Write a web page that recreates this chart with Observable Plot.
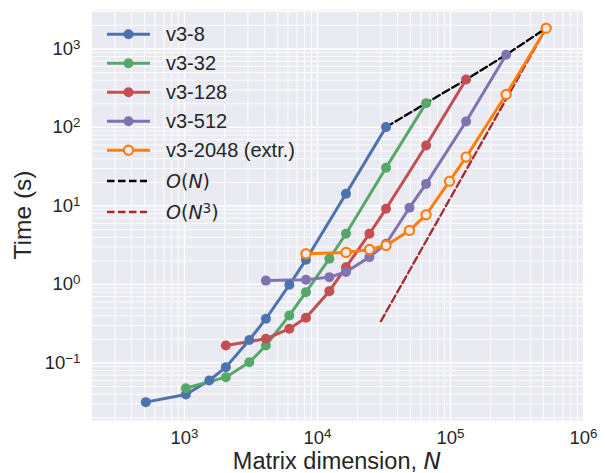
<!DOCTYPE html>
<html><head><meta charset="utf-8">
<script src="https://cdn.jsdelivr.net/npm/d3@7"></script>
<script src="https://cdn.jsdelivr.net/npm/@observablehq/plot@0.6"></script>
<style>
body{margin:0;background:#fff;}
#wrap{position:relative;width:605px;height:473px;}
</style></head><body><div id="wrap"></div>
<script>
// ---- data ----
const seriesNames = ["v3-8","v3-32","v3-128","v3-512","v3-2048 (extr.)"];
const seriesColors = ["#4C72B0","#55A868","#C44E52","#8172B2","#FF7F0E"];

const N_v3_8   = [512,1024,1536,2048,3072,4096,6144,8192,16384,32768];
const T_v3_8   = [0.0317,0.0397,0.0598,0.0885,0.196,0.366,0.99,2.06,14.3,101];
const N_v3_32  = [1024,2048,3072,4096,6144,8192,12288,16384,32768,65536];
const T_v3_32  = [0.0477,0.0659,0.102,0.167,0.403,0.798,2.13,4.43,30.7,204];
const N_v3_128 = [2048,4096,6144,8192,12288,16384,24576,32768,65536,131072];
const T_v3_128 = [0.167,0.203,0.273,0.376,0.822,1.66,4.43,9.2,59,408];
const N_v3_512 = [4096,8192,12288,16384,24576,32768,49152,65536,131072,262144];
const T_v3_512 = [1.12,1.15,1.24,1.44,2.23,3.3,9.5,19.1,119,844];
const N_v3_2048 = [8192,16384,24576,32768,49152,65536,98304,131072,262144,524288];
const T_v3_2048 = [2.46,2.56,2.79,3.14,4.88,7.72,20.7,41.9,263,1841];

const N_ON  = [32768,65536,131072,262144,524288];
const T_ON  = [101,204,408,844,1841];
const N_ON3 = [30000,524288];
const T_ON3 = [0.341,1841];

const xTicks = [1e3,1e4,1e5,1e6];
const yTicks = [1e-1,1e0,1e1,1e2,1e3];
const xLabel = "Matrix dimension, ";
const yLabel = "Time (s)";

// ---- build tables ----
const allN = [N_v3_8,N_v3_32,N_v3_128,N_v3_512,N_v3_2048];
const allT = [T_v3_8,T_v3_32,T_v3_128,T_v3_512,T_v3_2048];
const rows = [];
seriesNames.forEach((s,i)=>allN[i].forEach((n,j)=>rows.push({series:s,N:n,T:allT[i][j]})));
const solidRows = rows.filter(d=>d.series!==seriesNames[4]);
const extrRows = rows.filter(d=>d.series===seriesNames[4]);
const onRows = N_ON.map((n,i)=>({N:n,T:T_ON[i]}));
const on3Rows = N_ON3.map((n,i)=>({N:n,T:T_ON3[i]}));

const minorTicks = (lo,hi)=>{const out=[];for(let e=lo;e<=hi;e++)for(let m=1;m<=9;m++)out.push(m*10**e);return out;};
const xDomain=[200,1e6], yDomain=[10**-1.733,10**3.49];
const xMinor = minorTicks(2,5).filter(v=>v>=xDomain[0]&&v<=xDomain[1]);
const yMinor = minorTicks(-2,3).filter(v=>v>=yDomain[0]&&v<=yDomain[1]);
const expFmt = d=>"10^"+String(Math.round(Math.log10(d))).replace("-","\u2212");

const BG="#EAEAF2", TXT="#262626";
const plot = Plot.plot({
  width:605, height:473, marginLeft:91, marginRight:22, marginTop:10, marginBottom:53,
  style:{fontFamily:"'Liberation Sans', Arial, sans-serif", background:"transparent", color:TXT, overflow:"visible"},
  x:{type:"log", domain:xDomain},
  y:{type:"log", domain:yDomain},
  color:{domain:seriesNames, range:seriesColors},
  marks:[
    Plot.frame({fill:BG, stroke:null}),
    Plot.gridX(xMinor,{stroke:"#fff",strokeOpacity:1,strokeWidth:0.9}),
    Plot.gridY(yMinor,{stroke:"#fff",strokeOpacity:1,strokeWidth:0.9}),
    Plot.gridX(xTicks,{stroke:"#fff",strokeOpacity:1,strokeWidth:1.3}),
    Plot.gridY(yTicks,{stroke:"#fff",strokeOpacity:1,strokeWidth:1.3}),
    Plot.axisX(xTicks,{tickSize:0,tickPadding:10,tickFormat:expFmt,label:null,fontSize:18.5}),
    Plot.axisY(yTicks,{tickSize:0,tickPadding:11,tickFormat:expFmt,label:null,fontSize:18.5}),
    Plot.line(onRows,{x:"N",y:"T",stroke:"#000",strokeWidth:2.3,strokeDasharray:"7.5,3.5"}),
    Plot.line(on3Rows,{x:"N",y:"T",stroke:"brown",strokeWidth:2.3,strokeDasharray:"7.5,3.5"}),
    Plot.line(solidRows,{x:"N",y:"T",z:"series",stroke:"series",strokeWidth:3}),
    Plot.dot(solidRows,{x:"N",y:"T",fill:"series",r:5}),
    Plot.line(extrRows,{x:"N",y:"T",stroke:"series",strokeWidth:3}),
    Plot.dot(extrRows,{x:"N",y:"T",stroke:"series",fill:BG,strokeWidth:2.2,r:4.6})
  ]
});
document.getElementById("wrap").appendChild(plot);

const svg = d3.select(plot);
// superscript tick labels
svg.selectAll('g[aria-label$="tick label"] text').each(function(){
  const [b,e] = this.textContent.split("^");
  const t = d3.select(this).text(null).attr("font-size",18.5).attr("fill",TXT);
  t.append("tspan").text(b);
  t.append("tspan").attr("dy","-0.45em").attr("font-size","0.72em").text(e);
});

// axis labels
const xs = plot.scale("x").range, ys = plot.scale("y").range;
const xt = svg.append("text").attr("x",(xs[0]+xs[1])/2).attr("y",468.5)
  .attr("text-anchor","middle").attr("font-size",23.5).attr("fill",TXT);
xt.append("tspan").text(xLabel);
xt.append("tspan").attr("font-family","'DejaVu Sans'").attr("font-style","italic").text("N");
svg.append("text").attr("transform",`translate(31,${(ys[0]+ys[1])/2}) rotate(-90)`)
  .attr("text-anchor","middle").attr("font-size",24.5).attr("fill",TXT).text(yLabel);

// legend
const leg = svg.append("g").attr("aria-label","legend").attr("text-anchor","start");
const legendRows = seriesNames.map((s,i)=>({kind:i===4?"open":"solid",color:seriesColors[i],label:[[s,false]]}));
legendRows.push({kind:"dash",color:"#000",label:[["O",true],["(",false],["N",true],[")",false]],math:true});
legendRows.push({kind:"dash",color:"brown",label:[["O",true],["(",false],["N",true],["3",false,true],[")",false,false,true]],math:true});
const rowY=[34.3,63.3,92.3,121.2,150.2,181,212];
legendRows.forEach((r,i)=>{
  const y=rowY[i], x0=107, x1=150, xm=128.5;
  if(r.kind==="dash"){
    leg.append("line").attr("x1",x0).attr("x2",x1-3).attr("y1",y).attr("y2",y)
      .attr("stroke",r.color).attr("stroke-width",2.3).attr("stroke-dasharray","7.5,3.5");
  } else {
    leg.append("line").attr("x1",x0).attr("x2",x1).attr("y1",y).attr("y2",y)
      .attr("stroke",r.color).attr("stroke-width",3);
    if(r.kind==="solid") leg.append("circle").attr("cx",xm).attr("cy",y).attr("r",5).attr("fill",r.color);
    else leg.append("circle").attr("cx",xm).attr("cy",y).attr("r",4.6).attr("fill",BG).attr("stroke",r.color).attr("stroke-width",2.2);
  }
  const t = leg.append("text").attr("x",166).attr("y",y+7).attr("font-size",20).attr("fill",TXT).attr("text-anchor","start");
  if(r.math) t.attr("font-family","'DejaVu Sans'").attr("font-size",19);
  r.label.forEach(([s,it,sup,reset])=>{
    const sp=t.append("tspan").text(s);
    if(it) sp.attr("font-style","italic");
    if(sup) sp.attr("dy","-0.45em").attr("font-size","0.72em");
    if(reset) sp.attr("dy","0.33em");
  });
});
</script></body></html>
